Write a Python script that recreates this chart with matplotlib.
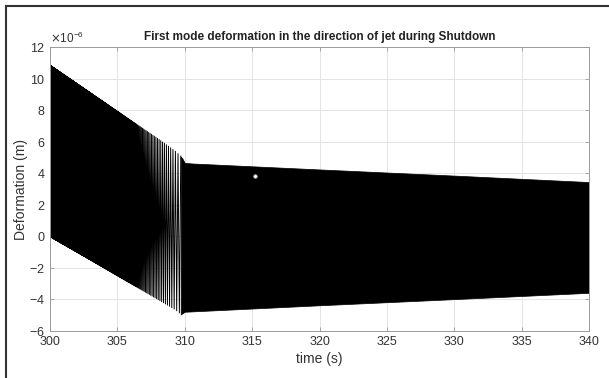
import numpy as np
import matplotlib.pyplot as plt
from matplotlib.lines import Line2D

plt.rcParams['font.family'] = ['Liberation Sans', 'DejaVu Sans']
plt.rcParams['axes.unicode_minus'] = False

# envelope of the forced part (300 s .. ~309.8 s), micro-metres
t_forced = [300.0, 303.0, 306.0, 308.0, 309.3, 309.75]
up_forced = [10.85, 9.1, 7.35, 6.2, 5.4, 5.05]
lo_forced = [-0.02, -1.5, -3.0, -4.0, -4.65, -4.95]

# oscillation period read from the spacing of the strokes (s)
t_period = [300.0, 303.0, 305.0, 306.0, 307.0, 308.0, 309.0, 309.75]
period = [0.012, 0.022, 0.04, 0.06, 0.09, 0.12, 0.17, 0.22]

# envelope of the free vibration after shutdown (309.75 s .. 340 s)
t_free = [309.7, 309.82, 310.0, 310.5, 320.0, 330.0, 340.0]
up_free = [5.05, 4.94, 4.66, 4.62, 4.24, 3.85, 3.44]
lo_free = [-4.95, -4.88, -4.78, -4.76, -4.37, -3.98, -3.58]

cursor_t, cursor_y = 315.2, 3.82

xticks = [300, 305, 310, 315, 320, 325, 330, 335, 340]
yticks = [-6, -4, -2, 0, 2, 4, 6, 8, 10, 12]

# zig-zag through alternating crests and troughs of the forced response
peak_t = []
t = t_forced[0]
while t < t_forced[-1]:
    peak_t.append(t)
    t += np.interp(t, t_period, period) / 2
peak_t = np.array(peak_t)
up = np.interp(peak_t, t_forced, up_forced)
lo = np.interp(peak_t, t_forced, lo_forced)
wave = np.where(np.arange(len(peak_t)) % 2 == 0, up, lo)

fig = plt.figure(figsize=(6.09, 3.78), dpi=100)
ax = fig.add_axes([50 / 609, 47 / 378, 539 / 609, 284 / 378])

ax.plot(peak_t, wave * 1e-6, color='black', lw=0.7)
ax.fill_between(t_free, np.array(up_free) * 1e-6, np.array(lo_free) * 1e-6,
                color='black', lw=0.5, edgecolor='black')
ax.plot([cursor_t], [cursor_y * 1e-6], marker='o', ms=2.5, color='white',
        mec='#bbbbbb', mew=0.6)

ax.set_xlim(300, 340)
ax.set_ylim(-6e-6, 12e-6)
ax.set_xticks(xticks)
ax.set_yticks([v * 1e-6 for v in yticks])
ax.ticklabel_format(axis='y', style='sci', scilimits=(-6, -6), useMathText=True)
ax.yaxis.get_offset_text().set_fontsize(8.5)
ax.yaxis.get_offset_text().set_color('#444444')

ax.grid(True, color='#e4e4e4', lw=0.7)
ax.set_axisbelow(True)
for s in ax.spines.values():
    s.set_color('#9a9a9a')
    s.set_linewidth(0.7)
ax.tick_params(direction='in', length=3, width=0.6, colors='#9a9a9a',
               labelcolor='#333333', labelsize=9, top=True, right=True)

ax.set_title('First mode deformation in the direction of jet during Shutdown',
             fontsize=8.5, fontweight='bold', color='#222222', pad=5)
ax.set_xlabel('time (s)', fontsize=10, color='#333333', labelpad=3)
ax.set_ylabel('Deformation (m)', fontsize=10, color='#333333')
ax.yaxis.set_label_coords(-0.041, 0.5)

# figure frame (left and top edges)
fig.add_artist(Line2D([6 / 609, 6 / 609], [0, 1 - 6 / 378],
                      transform=fig.transFigure, color='#333333', lw=1.5))
fig.add_artist(Line2D([6 / 609, 1], [1 - 6 / 378, 1 - 6 / 378],
                      transform=fig.transFigure, color='#333333', lw=1.5))

fig.savefig('out.png', dpi=100)
